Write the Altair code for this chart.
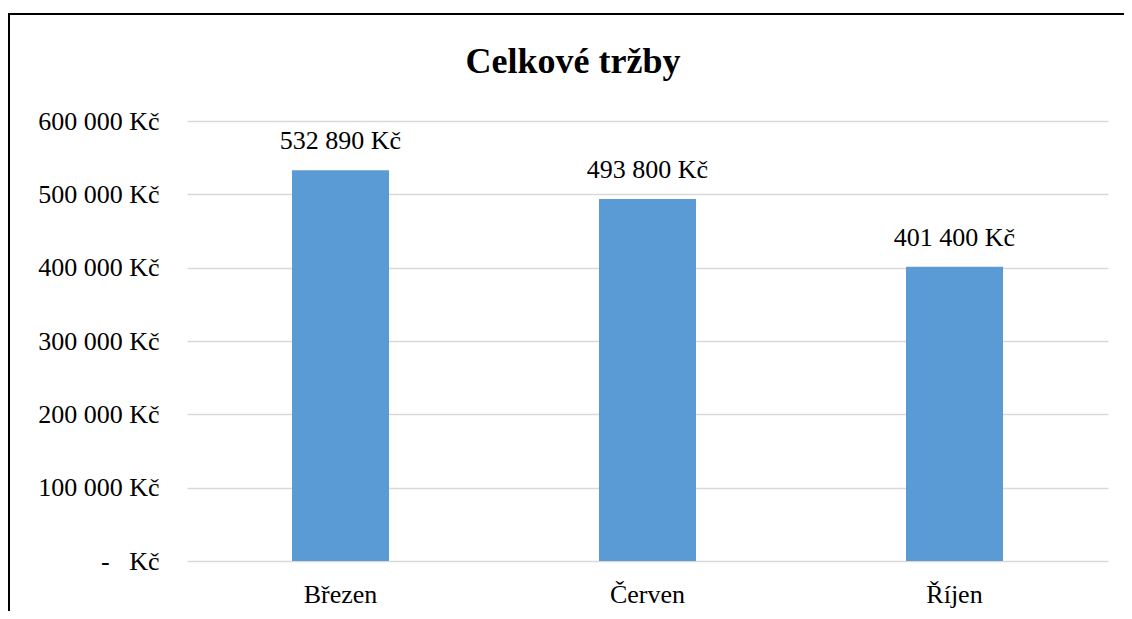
import altair as alt
import pandas as pd

categories = ["Březen", "Červen", "Říjen"]
values = [532890, 493800, 401400]
y_ticks = [0, 100000, 200000, 300000, 400000, 500000, 600000]
title_text = "Celkové tržby"

FONT = "Liberation Serif"

df = pd.DataFrame({"mesic": categories, "trzby": values})

base = alt.Chart(df)

bars = base.mark_bar(color="#5b9bd5").encode(
    x=alt.X("mesic:N", sort=categories,
            scale=alt.Scale(paddingInner=0.684, paddingOuter=0.342),
            axis=alt.Axis(title=None, labelAngle=0, labelFont=FONT, labelFontSize=26,
                          labelColor="black", domain=False, ticks=False, labelPadding=20)),
    y=alt.Y("trzby:Q", scale=alt.Scale(domain=[0, 600000], nice=False),
            axis=alt.Axis(title=None, values=y_ticks, labelFont=FONT, labelFontSize=26,
                          labelColor="black", domain=False, ticks=False, labelPadding=28,
                          gridColor="#d9d9d9", gridWidth=1.3,
                          labelExpr="datum.value == 0 ? '-\u00a0\u00a0\u00a0Kč' : replace(format(datum.value, ','), ',', ' ') + ' Kč'")),
)

labels = base.transform_calculate(
    label="replace(format(datum.trzby, ','), ',', ' ') + ' Kč'"
).mark_text(font=FONT, fontSize=26, color="black", baseline="alphabetic", dy=-21).encode(
    x=alt.X("mesic:N", sort=categories),
    y="trzby:Q",
    text="label:N",
)

tdf = pd.DataFrame({"t": [title_text]})
title = alt.Chart(tdf).mark_text(font=FONT, fontSize=36, fontWeight="bold", color="black",
                                 baseline="alphabetic", align="center").encode(
    text="t:N", x=alt.value(386), y=alt.value(-48)
)

border_top = alt.Chart(tdf).mark_rule(stroke="black", strokeWidth=2).encode(
    x=alt.value(-179), x2=alt.value(937), y=alt.value(-107)
)
border_left = alt.Chart(tdf).mark_rule(stroke="black", strokeWidth=2).encode(
    x=alt.value(-178), y=alt.value(-108), y2=alt.value(490)
)

chart = alt.layer(bars, labels, title, border_top, border_left).properties(
    width=921, height=440,
    padding={"left": 179, "top": 113, "right": 16, "bottom": 50},
    autosize="none",
).configure_view(stroke=None)

chart.save("out.html", embed_options={"renderer": "svg", "actions": False})
